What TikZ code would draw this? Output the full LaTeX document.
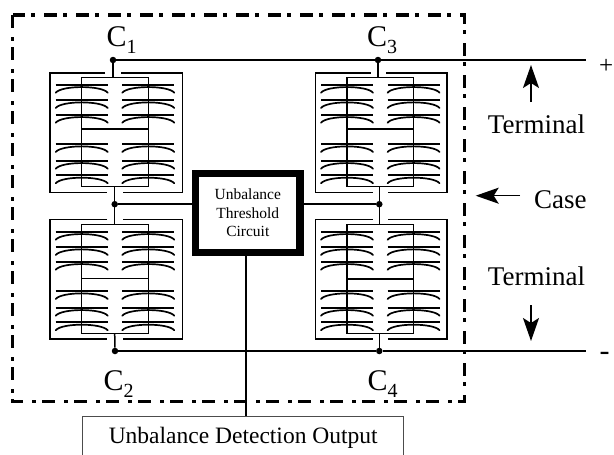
\documentclass[tikz,border=0pt]{standalone}
\usepackage{fontspec}
\setmainfont{Liberation Serif}
\usetikzlibrary{arrows.meta}
\newcommand{\capname}[2]{C\raisebox{-7pt}{\fontsize{20}{20}\selectfont #2}}
\tikzset{
  x=1pt,y=-1pt,
  wire/.style={line width=1.5pt,draw=black},
  dotn/.style={circle,fill=black,inner sep=0pt,minimum size=6.5pt},
  lbl/.style={inner sep=0pt,anchor=base west,font=\fontsize{27}{30}\selectfont},
  capl/.style={inner sep=0pt,anchor=base west,font=\fontsize{30}{32}\selectfont},
  arr/.style={wire,-{Stealth[length=23pt,width=16pt,inset=5pt]}},
  casefr/.style={line width=3.2pt,dash pattern=on 13pt off 9pt on 3.5pt off 6.5pt},
  cap plate/.pic={
    \draw[line width=1.7pt] (0,0) -- (52,0);
    \draw[line width=1.7pt,line cap=round] (0,8) .. controls (6,0.5) and (46,0.5) .. (52,8);
  },
  bankpic/.pic={
    \foreach \cx in {5.7,72.3}{
      \foreach \cy in {11.7,27,41.7,71,87.7,102.3}{
        \pic at (\cx,\cy) {cap plate};
      }
    }
    \draw[line width=1.5pt] (31.7,4.7) rectangle (98.3,113.7);
  }
}
\begin{document}
\begin{tikzpicture}
\useasboundingbox (0,0) rectangle (614,455);
% case
\draw[casefr] (12.7,15) rectangle (464.3,401.5);
% banks
\pic at (50,73) {bankpic};
\pic at (50,220) {bankpic};
\pic at (315.3,73) {bankpic};
\pic at (315.3,220) {bankpic};
\draw[line width=1.2pt] (81.7,129) -- (148.3,129);
\draw[line width=1.2pt] (81.7,278.7) -- (148.3,278.7);
\draw[line width=1.2pt] (347,129) -- (413.6,129);
\draw[line width=1.2pt] (347,279) -- (413.6,279);
% enclosures
\draw[wire] (105,73) -- (50,73) -- (50,192.3) -- (107,192.3);
\draw[wire] (121,73) -- (182.7,73) -- (182.7,192.3) -- (123,192.3);
\draw[wire] (107,219.3) -- (50,219.3) -- (50,339) -- (107,339);
\draw[wire] (123,219.3) -- (182.7,219.3) -- (182.7,339) -- (123,339);
\draw[wire] (370.5,73) -- (315.3,73) -- (315.3,192.3) -- (372.7,192.3);
\draw[wire] (386,73) -- (447,73) -- (447,192.3) -- (388,192.3);
\draw[wire] (372.7,219.3) -- (315.3,219.3) -- (315.3,339) -- (372.7,339);
\draw[wire] (388,219.3) -- (447,219.3) -- (447,339) -- (388,339);
% threshold
\node[draw,line width=7.4pt,minimum width=104.5pt,minimum height=79pt,inner sep=0pt,align=center,font=\fontsize{15.5}{18.8}\selectfont] (th) at (247.8,212.8) {Unbalance\\Threshold\\Circuit};
% junctions
\node[dotn] (n1) at (113,60) {};
\node[dotn] (n2) at (114.7,204.2) {};
\node[dotn] (n3) at (115,351) {};
\node[dotn] (n4) at (378,60) {};
\node[dotn] (n5) at (379.3,204.2) {};
\node[dotn] (n6) at (379.3,351) {};
\coordinate (pos) at (585.7,60);
\coordinate (neg) at (586,351);
\coordinate (tap) at (246,300);
\draw[wire] (n1) -- (n4) -- (pos);
\draw[wire] (n3) -- (n6) -- (neg);
\draw[wire] (n2) -- (n2 -| th.west);
\draw[wire] (n5 -| th.east) -- (n5);
\draw[wire] (n1) -- (113,77.7);
\draw[wire] (n4) -- (378,77.7);
\draw[wire] (114.7,186.7) -- (114.7,224);
\draw[wire] (379.3,186.7) -- (379.3,224);
\draw[wire] (114.7,333.3) -- (n3);
\draw[wire] (379.3,333.3) -- (n6);
% output
\node[draw=black!70,line width=1pt,minimum width=321pt,minimum height=44pt,inner sep=0pt,font=\fontsize{23.5}{26}\selectfont] (out) at (243.2,438) {Unbalance Detection Output};
\draw[wire] (tap |- th.south) -- (tap |- out.north);
% labels
\node[capl] (c1) at (106.5,46) {\capname{C}{1}};
\node[capl] (c3) at (367,46) {\capname{C}{3}};
\node[capl] (c2) at (103.5,390) {\capname{C}{2}};
\node[capl] (c4) at (367.5,390) {\capname{C}{4}};
\node[lbl,font=\fontsize{25}{28}\selectfont] (plus) at (599,74) {+};
\node[lbl,font=\fontsize{30}{32}\selectfont] (minus) at (599.5,360) {-};
\node[lbl] (t1) at (487.7,133.3) {Terminal};
\node[lbl] (t2) at (487.7,285) {Terminal};
\node[lbl] (cs) at (534,208) {Case};
\coordinate (a1) at (531,102);
\coordinate (a1t) at (531,65);
\coordinate (a2) at (531,305);
\coordinate (a2t) at (531,341);
\coordinate (a3) at (520,195.7);
\coordinate (a3t) at (475.7,195.7);
\draw[arr] (a1) -- (a1t);
\draw[arr] (a2) -- (a2t);
\draw[arr] (a3) -- (a3t);
\end{tikzpicture}
\end{document}
